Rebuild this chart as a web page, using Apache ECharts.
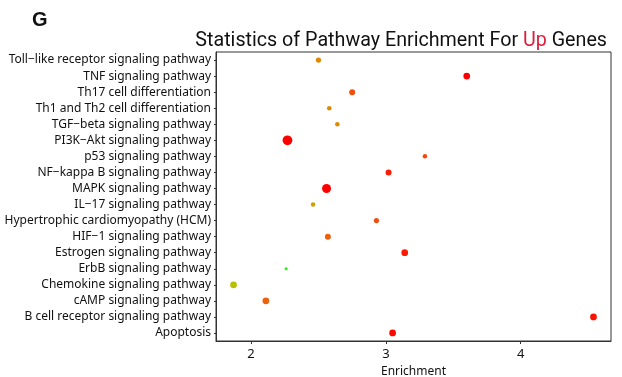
<!DOCTYPE html>
<html><head><meta charset="utf-8">
<script src="https://cdn.jsdelivr.net/npm/echarts@6/dist/echarts.min.js"></script>
<style>html,body{margin:0;padding:0;background:#fff}#c{width:622px;height:377px}</style>
</head><body><div id="c"></div>
<script>
const pathways = [
  "Toll\u2212like receptor signaling pathway",
  "TNF signaling pathway",
  "Th17 cell differentiation",
  "Th1 and Th2 cell differentiation",
  "TGF\u2212beta signaling pathway",
  "PI3K\u2212Akt signaling pathway",
  "p53 signaling pathway",
  "NF\u2212kappa B signaling pathway",
  "MAPK signaling pathway",
  "IL\u221217 signaling pathway",
  "Hypertrophic cardiomyopathy (HCM)",
  "HIF\u22121 signaling pathway",
  "Estrogen signaling pathway",
  "ErbB signaling pathway",
  "Chemokine signaling pathway",
  "cAMP signaling pathway",
  "B cell receptor signaling pathway",
  "Apoptosis"
];
const enrichment = [2.50, 3.60, 2.75, 2.58, 2.64, 2.27, 3.29, 3.02, 2.56, 2.46, 2.93, 2.57, 3.14, 2.26, 1.87, 2.11, 4.54, 3.05];
const geneCount  = [5, 7, 6, 4, 4, 11, 4, 6, 10, 4, 5, 6, 7, 2, 7, 7, 7, 7];
const significance = [0.5, 1.0, 0.78, 0.5, 0.5, 1.0, 0.8, 0.92, 1.0, 0.4, 0.78, 0.72, 0.92, 0.0, 0.25, 0.72, 0.95, 0.98];
const xTicks = [2, 3, 4];

const cats = pathways.slice().reverse();
const data = pathways.map((p, i) => [enrichment[i], p, geneCount[i], significance[i]]);

const chart = echarts.init(document.getElementById('c'));
chart.setOption({
  animation: false,
  title: [
    { text: 'G', left: 27, top: 5, textStyle: { fontFamily: 'Liberation Sans', fontWeight: 'bold', fontSize: 20, color: '#111' } },
    { text: 'Statistics of Pathway Enrichment For {u|Up} Genes', right: 10, top: 26,
      textStyle: { fontFamily: 'Roboto', fontWeight: 'normal', fontSize: 19.7, color: '#111',
        rich: { u: { fontFamily: 'Roboto', fontSize: 19.7, color: '#dc1e3c' } } } }
  ],
  grid: { left: 216, right: 11, top: 52, bottom: 36, outerBoundsMode: 'none', containLabel: false,
    show: true, borderColor: '#333', borderWidth: 1, backgroundColor: 'transparent' },
  xAxis: {
    type: 'value', min: 1.74, max: 4.67,
    name: 'Enrichment', nameLocation: 'middle', nameGap: 25,
    nameTextStyle: { fontFamily: 'Noto Sans', fontSize: 12, color: '#111' },
    axisLine: { show: true, lineStyle: { color: '#333' } },
    axisTick: { show: true, customValues: xTicks, length: 3, lineStyle: { color: '#333' } },
    axisLabel: { customValues: xTicks, fontFamily: 'Noto Sans', fontSize: 13, color: '#111', margin: 7 },
    splitLine: { show: false }
  },
  yAxis: {
    type: 'category', data: cats, boundaryGap: true,
    axisLine: { show: true, lineStyle: { color: '#333' } },
    axisTick: { show: true, alignWithLabel: true, length: 2, lineStyle: { color: '#333' } },
    axisLabel: { fontFamily: 'Noto Sans', fontSize: 12, color: '#111', margin: 5, interval: 0 },
    splitLine: { show: false }
  },
  visualMap: {
    show: false, type: 'continuous', dimension: 3, min: 0, max: 1, seriesIndex: 0,
    inRange: { color: ['#22ee10', '#b8c000', '#e08a00', '#f05a10', '#ff0000'] }
  },
  series: [{
    type: 'scatter',
    data: data,
    encode: { x: 0, y: 1 },
    symbolSize: d => 1.5 + d[2] * 0.75,
    itemStyle: { opacity: 1 }
  }]
});
</script></body></html>
